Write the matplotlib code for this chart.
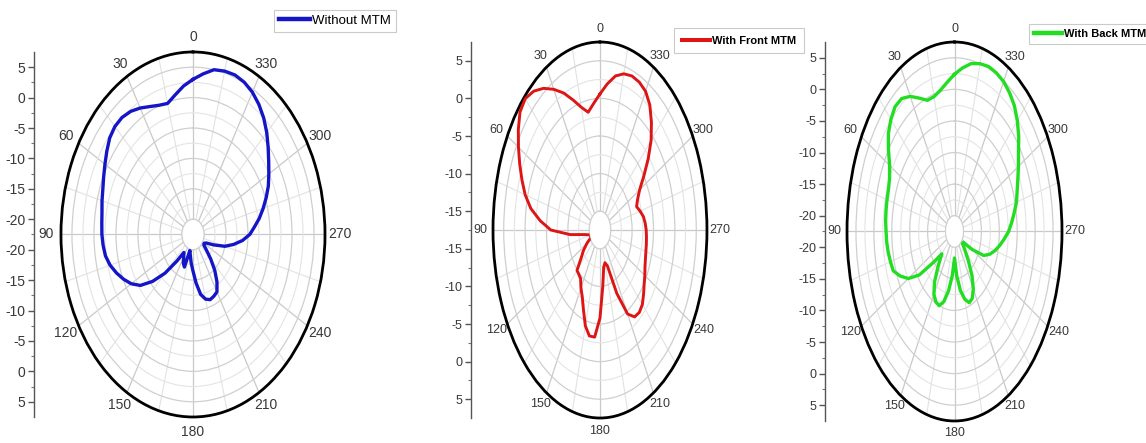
import numpy as np
import matplotlib
matplotlib.use("Agg")
import matplotlib.pyplot as plt

# ---- radiation pattern data (dB), sampled every 5 degrees ----
angles_deg = np.arange(0, 360, 5)

without_mtm = [
    3.0, 2.0, 0.8, -0.2, 0.1, 0.7, 1.5, 2.2, 2.6, 2.6, 2.2, 1.4,
    0.6, -0.1, -0.7, -1.1, -1.5, -1.7, -1.8, -2.0, -2.3, -3.0, -4.0, -5.1,
    -6.3, -7.9, -10.5, -13.5, -16.8, -18.9, -18.3, -17.3, -16.8, -19.8, -19.0, -17.8,
    -16.5, -14.5, -12.5, -11.5, -11.1, -11.3, -11.6, -13.0, -14.8, -16.8, -18.5, -19.5,
    -19.6, -19.2, -17.5, -15.0, -13.1, -11.2, -9.6, -8.5, -7.2, -6.0, -4.8, -3.6,
    -2.6, -1.5, -0.2, 1.2, 2.5, 3.6, 4.5, 5.1, 5.4, 5.3, 5.0, 4.0,
]

with_front_mtm = [
    0.6, -0.6, -1.6, -0.6, 0.9, 2.6, 4.1, 5.5, 6.6, 7.2, 6.9, 5.8,
    4.5, 3.2, 1.9, 0.6, -1.1, -3.5, -6.0, -10.5, -14.0, -15.0, -15.3, -15.2,
    -14.0, -12.8, -11.8, -9.9, -9.8, -9.6, -8.6, -7.7, -6.2, -4.3, -3.2, -3.2,
    -5.8, -10.0, -12.5, -13.0, -12.4, -8.2, -4.6, -3.4, -3.2, -3.5, -4.2, -4.9,
    -5.4, -5.9, -6.2, -6.4, -6.5, -6.6, -6.7, -6.9, -7.2, -7.8, -8.4, -7.8,
    -6.8, -5.0, -2.8, -0.6, 1.2, 2.8, 3.8, 4.2, 4.3, 4.0, 3.3, 2.0,
]

with_back_mtm = [
    2.4, 1.2, 0.2, -0.4, -0.4, 0.8, 2.2, 3.2, 3.3, 2.6, 1.6, 0.0,
    -1.6, -2.5, -2.9, -3.0, -3.1, -3.2, -3.4, -3.5, -3.7, -4.0, -4.3, -5.8,
    -7.6, -10.5, -15.0, -17.5, -15.5, -12.8, -11.0, -10.2, -10.0, -11.0, -13.0, -15.5,
    -18.3, -15.5, -13.0, -11.4, -10.5, -10.8, -12.0, -14.0, -16.5, -18.5, -19.6, -19.5,
    -16.8, -13.5, -12.0, -10.8, -9.7, -8.6, -7.4, -6.5, -5.6, -4.6, -3.9, -3.0,
    -1.9, -0.7, 0.9, 2.3, 3.5, 4.3, 4.9, 5.2, 5.3, 5.0, 4.5, 3.5,
]

theta_labels = [str(a) for a in range(0, 360, 30)]

FONT = ["Liberation Sans Narrow", "Liberation Sans", "DejaVu Sans"]
TEXT_COLOR = "#383838"

fig = plt.figure(figsize=(11.46, 4.43), dpi=100)


def panel(rect, side_x, values, color, label, r_low, r_origin, r_high,
          side_labels, tick_fs, theta_pad, legend_rect, legend_fs,
          legend_weight, lw, handle_len, border_pad):
    ax = fig.add_axes(rect, projection="polar")
    ax.set_aspect("auto")
    ax.set_theta_zero_location("N")
    ax.set_theta_direction(1)
    ax.set_rlim(r_low, r_high)
    ax.set_rorigin(r_origin)

    # angular grid: labelled every 30 deg, minor lines every 15 deg
    ax.set_xticks(np.deg2rad(np.arange(0, 360, 30)))
    ax.set_xticklabels(theta_labels, fontsize=tick_fs, family=FONT, color=TEXT_COLOR)
    ax.set_xticks(np.deg2rad(np.arange(15, 360, 30)), minor=True)
    ax.tick_params(axis="x", which="major", direction="in", length=6, width=1.2,
                   pad=theta_pad, color="black")
    ax.tick_params(axis="x", which="minor", direction="in", length=4, width=1.0,
                   color="black")

    # radial grid: major every 5 dB, minor halfway
    majors = np.arange(r_low, r_high - 0.1, 5.0)
    ax.set_yticks(majors)
    ax.set_yticks(majors + 2.5, minor=True)
    ax.set_yticklabels([])
    ax.tick_params(axis="y", which="both", length=0)

    ax.xaxis.grid(True, which="major", color="#c9c9c9", lw=0.9)
    ax.xaxis.grid(True, which="minor", color="#e2e2e2", lw=0.8)
    ax.yaxis.grid(True, which="major", color="#cfcfcf", lw=0.9)
    ax.yaxis.grid(True, which="minor", color="#e4e4e4", lw=0.8)

    ax.spines["polar"].set_linewidth(2.0)
    ax.spines["polar"].set_color("black")
    ax.spines["inner"].set_color("#d0d0d0")
    ax.spines["inner"].set_linewidth(0.8)

    th = np.deg2rad(np.append(angles_deg, angles_deg[0]))
    r = np.append(values, values[0])
    line, = ax.plot(th, r, color=color, lw=lw, solid_joinstyle="round", zorder=5)

    # side scale showing radius along the vertical diameter
    span = r_high - r_origin
    sax = fig.add_axes([side_x, rect[1], 0.0005, rect[3]])
    sax.set_ylim(-span, span)
    sax.set_xlim(0, 1)
    for s in ("top", "right", "bottom"):
        sax.spines[s].set_visible(False)
    sax.spines["left"].set_color("#555555")
    sax.spines["left"].set_linewidth(1.0)
    sax.set_xticks([])
    pos = [v - r_origin for v in side_labels]
    ticks = pos + [-p for p in pos]
    labels = [str(v) for v in side_labels] * 2
    sax.set_yticks(ticks)
    sax.set_yticklabels(labels, fontsize=tick_fs, family=FONT, color=TEXT_COLOR)
    minor_pos = [p - 2.5 for p in pos] + [p + 2.5 for p in pos]
    minor_pos = sorted(set(minor_pos + [-p for p in minor_pos]))
    minor_pos = [p for p in minor_pos if abs(p) < span]
    sax.set_yticks(minor_pos, minor=True)
    sax.tick_params(axis="y", which="major", direction="out", length=4,
                    width=1.0, color="#555555", pad=2)
    sax.tick_params(axis="y", which="minor", direction="out", length=2.5,
                    width=0.8, color="#777777")

    # legend box
    lax = fig.add_axes(legend_rect)
    lax.axis("off")
    leg = lax.legend([line], [label], loc="center", frameon=True,
                     prop={"family": FONT, "size": legend_fs, "weight": legend_weight},
                     handlelength=handle_len, handletextpad=0.15,
                     borderpad=border_pad, fancybox=False, edgecolor="#bdbdbd",
                     borderaxespad=0)
    leg.get_frame().set_linewidth(0.8)
    for h in leg.legend_handles:
        h.set_linewidth(lw + 0.8)
    return ax


panel([0.0532, 0.0587, 0.2304, 0.824], 34 / 1146, without_mtm, "#1515c8",
      "Without MTM", -20, -22.5, 7.5, [5, 0, -5, -10, -15, -20], 10, 3.5,
      [277 / 1146, 1 - 32 / 443, 116 / 1146, 22 / 443], 9.5, "normal", 2.4, 2.4, 0.35)

panel([0.4302, 0.0564, 0.1867, 0.8488], 471 / 1146, with_front_mtm, "#dd1515",
      "With Front MTM", -15, -17.5, 7.5, [5, 0, -5, -10, -15], 9, 2.0,
      [683 / 1146, 1 - 53 / 443, 112 / 1146, 25 / 443], 8, "bold", 2.1, 2.5, 0.7)

panel([0.7391, 0.0497, 0.1876, 0.8555], 825 / 1146, with_back_mtm, "#22dd22",
      "With Back MTM", -20, -22.5, 7.5, [5, 0, -5, -10, -15, -20], 9, 2.0,
      [1035 / 1146, 1 - 43 / 443, 110 / 1146, 18 / 443], 8, "bold", 2.4, 2.5, 0.45)

fig.savefig("out.png", dpi=100, facecolor="white")
